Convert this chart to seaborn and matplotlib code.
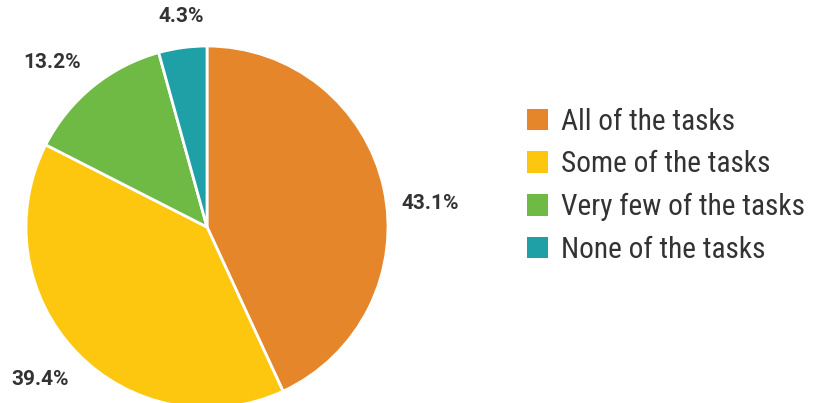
import numpy as np
import matplotlib
matplotlib.use("Agg")
import matplotlib.pyplot as plt
import seaborn as sns
from matplotlib.patches import Patch

# data
categories = ["All of the tasks", "Some of the tasks", "Very few of the tasks", "None of the tasks"]
shares = [43.1, 39.4, 13.2, 4.3]
colors = ["#E6862A", "#FDC70F", "#6FB945", "#1FA0A6"]

sns.set_theme(style="white")
plt.rcParams["font.family"] = ["Roboto", "DejaVu Sans"]

fig = plt.figure(figsize=(8.14, 4.03), dpi=100)
W, H = 814, 403
cx, cy, r = 207, 403 - 227, 181
ax = fig.add_axes([(cx - r) / W, (cy - r) / H, 2 * r / W, 2 * r / H])

wedges, _ = ax.pie(shares, colors=sns.color_palette(colors), startangle=90, counterclock=False,
                   wedgeprops=dict(edgecolor="white", linewidth=2))
ax.set_xlim(-1, 1)
ax.set_ylim(-1, 1)
ax.set_aspect("equal")
ax.axis("off")

# percentage labels outside the slices
dists = [1.24, 1.25, 1.25, 1.17]
shifts = [-6.4, -1.5, 4, -0.7]
for w, val, d, s in zip(wedges, shares, dists, shifts):
    ang = np.deg2rad((w.theta1 + w.theta2) / 2 + s)
    ax.text(d * np.cos(ang), d * np.sin(ang), f"{val}%", ha="center", va="center",
            fontsize=15, fontweight="bold", color="#333333", clip_on=False)

handles = [Patch(facecolor=c, edgecolor="none") for c in colors]
leg = fig.legend(handles, categories, loc="upper left", bbox_to_anchor=(500 / W, 1 - 81 / H),
                 frameon=False, handlelength=0.74, handleheight=0.74,
                 handletextpad=0.42, labelspacing=0.5,
                 prop={"family": ["Liberation Sans Narrow", "Roboto Condensed", "DejaVu Sans"], "size": 21.2})
for t in leg.get_texts():
    t.set_color("#333333")

fig.savefig("out.png", dpi=100)
